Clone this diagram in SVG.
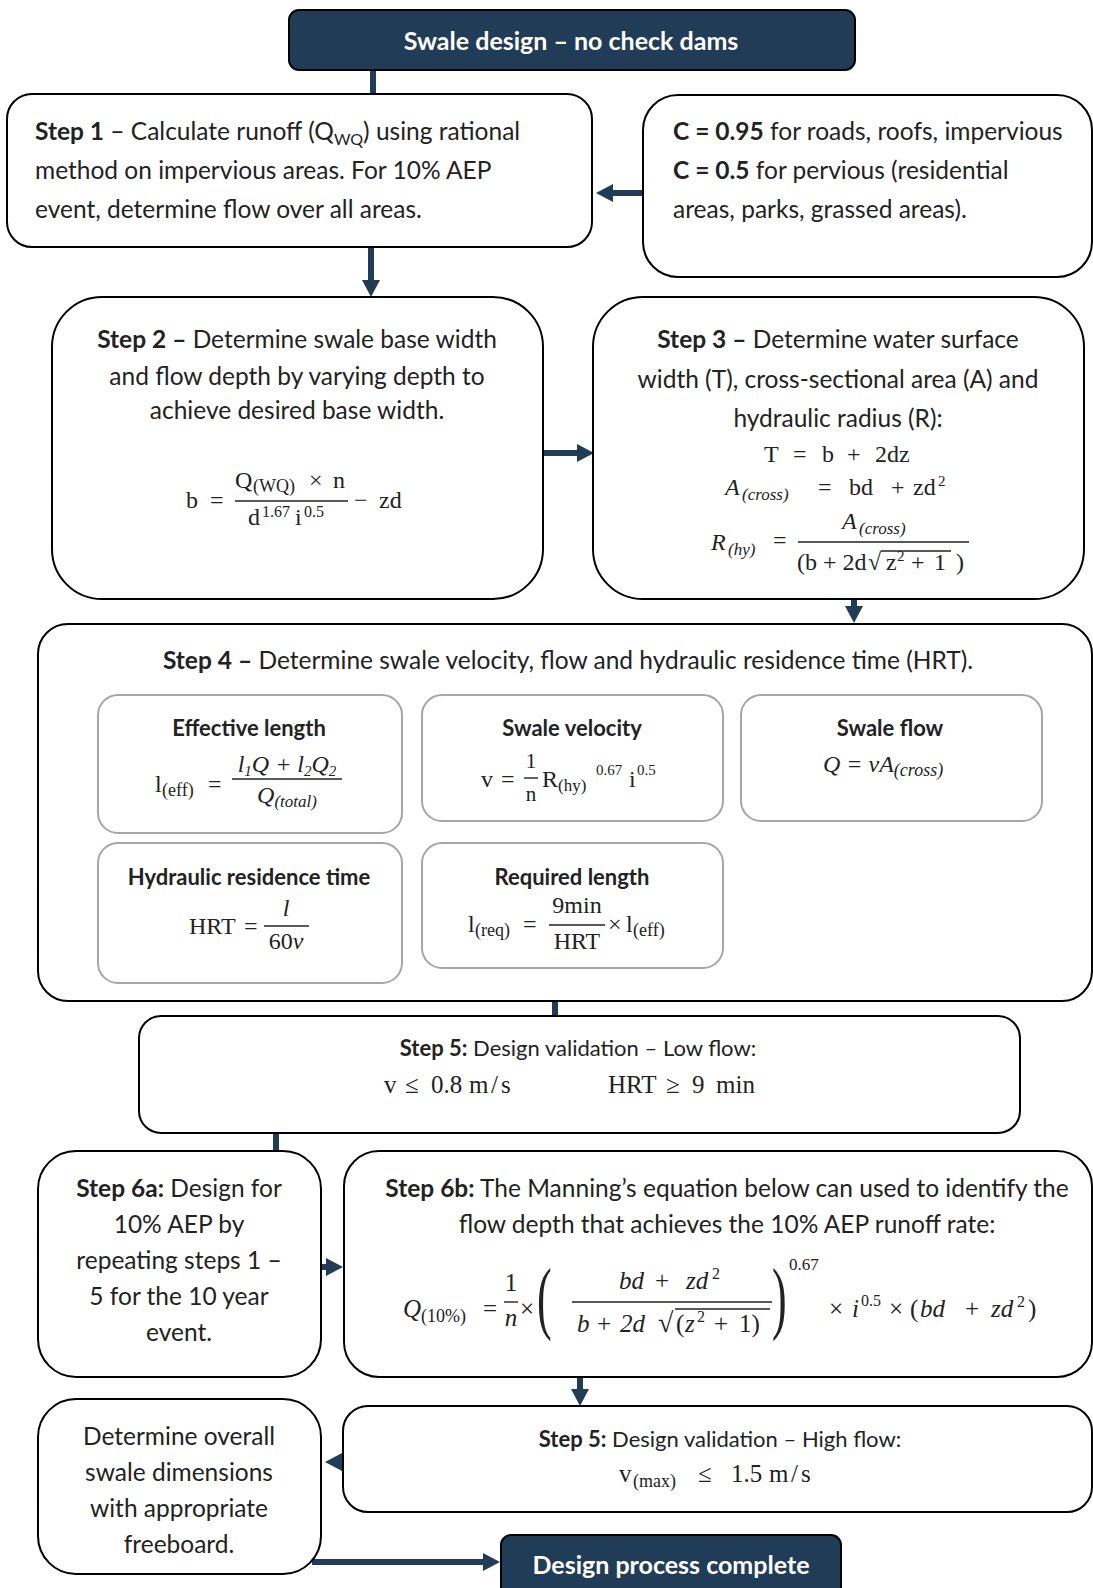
<svg xmlns="http://www.w3.org/2000/svg" width="1093" height="1588" viewBox="0 0 1093 1588">
<defs>
<style>
.box{fill:#fff;stroke:#000;stroke-width:2}
.dark{fill:#213c57;stroke:#000;stroke-width:2}
.inner{fill:#fff;stroke:#a6a6a6;stroke-width:2}
.t{font-family:Lato,'Liberation Sans',sans-serif;font-size:24.5px;fill:#222}
.s{font-size:22px}
.c{text-anchor:middle}
.b{font-weight:bold}
.w{fill:#fff;font-weight:bold}
.m{font-family:'Liberation Serif',serif;font-size:24px;fill:#222}
.i{font-style:italic}
.bar{stroke:#222;stroke-width:1.4}
.con{stroke:#213c57;stroke-width:6;fill:none}
</style>
<marker id="ah" viewBox="0 0 17 18" refX="0" refY="9" markerWidth="17" markerHeight="18" markerUnits="userSpaceOnUse" orient="auto"><path d="M0,0L17,9L0,18z" fill="#213c57"/></marker>
</defs>
<rect width="1093" height="1588" fill="#fff"/>

<g id="connectors">
<line class="con" x1="373" y1="71" x2="373" y2="94"/>
<line class="con" x1="371" y1="247" x2="371" y2="280" marker-end="url(#ah)"/>
<line class="con" x1="643" y1="193" x2="613" y2="193" marker-end="url(#ah)"/>
<line class="con" x1="544" y1="453" x2="577" y2="453" marker-end="url(#ah)"/>
<line class="con" x1="854" y1="599" x2="854" y2="606" marker-end="url(#ah)"/>
<line class="con" x1="555" y1="1001" x2="555" y2="1016"/>
<line class="con" x1="276" y1="1133" x2="276" y2="1151"/>
<line class="con" x1="321" y1="1267" x2="326" y2="1267" marker-end="url(#ah)"/>
<line class="con" x1="580" y1="1377" x2="580" y2="1389" marker-end="url(#ah)"/>
<line class="con" x1="344" y1="1462" x2="342" y2="1462" marker-end="url(#ah)"/>
<line class="con" x1="312" y1="1562" x2="483" y2="1562" marker-end="url(#ah)"/>
</g>

<g id="title">
<rect class="dark" x="289" y="10" width="566" height="60" rx="10"/>
<text class="t w c" x="571" y="50" style="font-size:25px">Swale design – no check dams</text>
</g>

<g id="step1">
<rect class="box" x="7" y="94" width="585" height="153" rx="25"/>
<text class="t" x="35" y="140"><tspan class="b">Step 1</tspan> – Calculate runoff (Q<tspan font-size="16" dy="5">WQ</tspan><tspan dy="-5">) using rational</tspan></text>
<text class="t" x="35" y="179">method on impervious areas. For 10% AEP</text>
<text class="t" x="35" y="218">event, determine flow over all areas.</text>
</g>

<g id="coeff">
<rect class="box" x="643" y="95" width="449" height="182" rx="35"/>
<text class="t" x="673" y="140"><tspan class="b">C = 0.95</tspan> for roads, roofs, impervious</text>
<text class="t" x="673" y="179"><tspan class="b">C = 0.5</tspan> for pervious (residential</text>
<text class="t" x="673" y="218">areas, parks, grassed areas).</text>
</g>

<g id="step2">
<rect class="box" x="52" y="297" width="491" height="302" rx="50"/>
<text class="t c" x="297" y="348"><tspan class="b">Step 2 –</tspan> Determine swale base width</text>
<text class="t c" x="297" y="385">and flow depth by varying depth to</text>
<text class="t c" x="297" y="419">achieve desired base width.</text>
<text class="m" y="508"><tspan x="186">b</tspan><tspan x="210">=</tspan><tspan x="354">−</tspan><tspan x="379">zd</tspan></text>
<line class="bar" x1="235" y1="501" x2="348" y2="501"/>
<text class="m" y="488"><tspan x="235">Q</tspan><tspan x="253" font-size="18" dy="4">(WQ)</tspan><tspan x="309" dy="-4">×</tspan><tspan x="333">n</tspan></text>
<text class="m" y="525"><tspan x="248">d</tspan><tspan x="262" font-size="16" dy="-8">1.67</tspan><tspan x="295" dy="8">i</tspan><tspan x="304" font-size="16" dy="-8">0.5</tspan></text>
</g>

<g id="step3">
<rect class="box" x="593" y="297" width="491" height="302" rx="50"/>
<text class="t c" x="838" y="348"><tspan class="b">Step 3 –</tspan> Determine water surface</text>
<text class="t c" x="838" y="388">width (T), cross-sectional area (A) and</text>
<text class="t c" x="838" y="427">hydraulic radius (R):</text>
<text class="m" y="462"><tspan x="764">T</tspan><tspan x="793">=</tspan><tspan x="822">b</tspan><tspan x="847">+</tspan><tspan x="875">2dz</tspan></text>
<text class="m" y="495"><tspan x="725" class="i">A</tspan><tspan x="742" class="i" font-size="17" dy="5">(cross)</tspan><tspan x="818" dy="-5">=</tspan><tspan x="849">bd</tspan><tspan x="891">+</tspan><tspan x="913">zd</tspan><tspan x="938" font-size="15" dy="-9">2</tspan></text>
<text class="m" y="550"><tspan x="711" class="i">R</tspan><tspan x="728" class="i" font-size="17" dy="5">(hy)</tspan><tspan x="773" dy="-7">=</tspan></text>
<line class="bar" x1="798" y1="542" x2="969" y2="542"/>
<text class="m" y="529"><tspan x="842" class="i">A</tspan><tspan x="859" class="i" font-size="17" dy="5">(cross)</tspan></text>
<text class="m" y="570"><tspan x="797">(b + 2d</tspan><tspan x="868">√</tspan><tspan x="886">z</tspan><tspan x="897" font-size="15" dy="-9">2</tspan><tspan x="911" dy="9">+</tspan><tspan x="934">1</tspan><tspan x="956">)</tspan></text>
<line class="bar" x1="881" y1="551" x2="951" y2="551"/>
</g>

<g id="step4">
<rect class="box" x="38" y="624" width="1054" height="377" rx="30"/>
<text class="t c" x="568" y="669"><tspan class="b">Step 4 –</tspan> Determine swale velocity, flow and hydraulic residence time (HRT).</text>
</g>

<g id="effective-length">
<rect class="inner" x="98" y="695" width="304" height="138" rx="20"/>
<text class="t s b c" x="249" y="736">Effective length</text>
<text class="m" y="792"><tspan x="155">l</tspan><tspan x="162" font-size="18" dy="4">(eff)</tspan><tspan x="208" dy="-4">=</tspan></text>
<line class="bar" x1="232" y1="779" x2="342" y2="779"/>
<text class="m i c" x="287" y="772">l<tspan font-size="15" dy="4">1</tspan><tspan dy="-4">Q + l</tspan><tspan font-size="15" dy="4">2</tspan><tspan dy="-4">Q</tspan><tspan font-size="15" dy="4">2</tspan></text>
<text class="m i c" x="287" y="803">Q<tspan font-size="17" dy="4">(total)</tspan></text>
</g>

<g id="swale-velocity">
<rect class="inner" x="422" y="695" width="301" height="126" rx="20"/>
<text class="t s b c" x="572" y="736">Swale velocity</text>
<text class="m" y="787"><tspan x="481">v</tspan><tspan x="501">=</tspan></text>
<text class="m c" x="531" y="768" style="font-size:21px">1</text>
<line class="bar" x1="524" y1="778" x2="538" y2="778"/>
<text class="m c" x="531" y="801" style="font-size:21px">n</text>
<text class="m" y="787"><tspan x="542">R</tspan><tspan x="558" font-size="17" dy="4">(hy)</tspan><tspan x="596" font-size="15" dy="-16">0.67</tspan><tspan x="629" dy="12">i</tspan><tspan x="637" font-size="15" dy="-12">0.5</tspan></text>
</g>

<g id="swale-flow">
<rect class="inner" x="741" y="695" width="301" height="126" rx="20"/>
<text class="t s b c" x="890" y="736">Swale flow</text>
<text class="m i" x="823" y="772">Q = vA<tspan font-size="18" dy="4">(cross)</tspan></text>
</g>

<g id="hrt">
<rect class="inner" x="98" y="843" width="304" height="140" rx="20"/>
<text class="t s b c" x="249" y="885">Hydraulic residence time</text>
<text class="m" y="934"><tspan x="189">HRT</tspan><tspan x="244">=</tspan></text>
<line class="bar" x1="264" y1="926" x2="309" y2="926"/>
<text class="m i c" x="286" y="916">l</text>
<text class="m c" x="286" y="949">60<tspan class="i">v</tspan></text>
</g>

<g id="required-length">
<rect class="inner" x="422" y="843" width="301" height="125" rx="20"/>
<text class="t s b c" x="572" y="885">Required length</text>
<text class="m" y="932"><tspan x="468">l</tspan><tspan x="475" font-size="18" dy="4">(req)</tspan><tspan x="523" dy="-4">=</tspan></text>
<line class="bar" x1="549" y1="925" x2="605" y2="925"/>
<text class="m c" x="577" y="913">9min</text>
<text class="m c" x="577" y="949">HRT</text>
<text class="m" y="932"><tspan x="608">×</tspan><tspan x="626">l</tspan><tspan x="633" font-size="18" dy="4">(eff)</tspan></text>
</g>

<g id="step5-low">
<rect class="box" x="139" y="1016" width="881" height="117" rx="22"/>
<text class="t s c" x="578" y="1056"><tspan class="b">Step 5:</tspan> Design validation – Low flow:</text>
<text class="m" y="1093" style="font-size:25px"><tspan x="384">v</tspan><tspan x="405">≤</tspan><tspan x="431">0.8</tspan><tspan x="469">m</tspan><tspan x="491">/</tspan><tspan x="501">s</tspan><tspan x="608">HRT</tspan><tspan x="666">≥</tspan><tspan x="692">9</tspan><tspan x="716">min</tspan></text>
</g>

<g id="step6a">
<rect class="box" x="38" y="1151" width="283" height="226" rx="38"/>
<text class="t c" x="179" y="1197"><tspan class="b">Step 6a:</tspan> Design for</text>
<text class="t c" x="179" y="1233">10% AEP by</text>
<text class="t c" x="179" y="1269">repeating steps 1 –</text>
<text class="t c" x="179" y="1305">5 for the 10 year</text>
<text class="t c" x="179" y="1341">event.</text>
</g>

<g id="step6b">
<rect class="box" x="344" y="1151" width="748" height="226" rx="35"/>
<text class="t c" x="727" y="1197"><tspan class="b">Step 6b:</tspan> The Manning’s equation below can used to identify the</text>
<text class="t c" x="727" y="1233">flow depth that achieves the 10% AEP runoff rate:</text>
<text class="m" y="1317" style="font-size:25px"><tspan x="403" class="i">Q</tspan><tspan x="421" font-size="18" dy="5">(10%)</tspan><tspan x="483" dy="-5">=</tspan><tspan x="520">×</tspan></text>
<text class="m c" x="511" y="1291" style="font-size:25px">1</text>
<line class="bar" x1="504" y1="1302" x2="518" y2="1302"/>
<text class="m i c" x="511" y="1326" style="font-size:25px">n</text>
<text class="m" style="font-size:80px" transform="translate(537 1324) scale(0.55 1)">(</text>
<line class="bar" x1="572" y1="1302" x2="772" y2="1302"/>
<text class="m i" y="1289" style="font-size:25px"><tspan x="619">bd</tspan><tspan x="655" font-style="normal">+</tspan><tspan x="686">zd</tspan><tspan x="712" font-size="16" font-style="normal" dy="-10">2</tspan></text>
<text class="m i" y="1332" style="font-size:25px"><tspan x="577">b</tspan><tspan x="597" font-style="normal">+</tspan><tspan x="620">2d</tspan><tspan x="658" font-style="normal" font-size="28">√</tspan><tspan x="676" font-style="normal">(</tspan><tspan x="685">z</tspan><tspan x="697" font-size="16" font-style="normal" dy="-10">2</tspan><tspan x="714" font-style="normal" dy="10">+</tspan><tspan x="739" font-style="normal">1)</tspan></text>
<line class="bar" x1="675" y1="1309" x2="770" y2="1309"/>
<text class="m" style="font-size:80px" transform="translate(772 1324) scale(0.55 1)">)</text>
<text class="m" x="789" y="1270" style="font-size:17px">0.67</text>
<text class="m" y="1317" style="font-size:25px"><tspan x="829">×</tspan><tspan x="852" class="i">i</tspan><tspan x="861" font-size="16" dy="-11">0.5</tspan><tspan x="889" dy="11">×</tspan><tspan x="910">(</tspan><tspan x="920" class="i">bd</tspan><tspan x="965">+</tspan><tspan x="991" class="i">zd</tspan><tspan x="1017" font-size="16" dy="-10">2</tspan><tspan x="1028" dy="10">)</tspan></text>
</g>

<g id="step5-high">
<rect class="box" x="343" y="1406" width="749" height="106" rx="25"/>
<text class="t s c" x="720" y="1447"><tspan class="b">Step 5:</tspan> Design validation – High flow:</text>
<text class="m" y="1482" style="font-size:25px"><tspan x="619">v</tspan><tspan x="633" font-size="18" dy="5">(max)</tspan><tspan x="698" dy="-5">≤</tspan><tspan x="731">1.5</tspan><tspan x="769">m</tspan><tspan x="791">/</tspan><tspan x="801">s</tspan></text>
</g>

<g id="determine">
<rect class="box" x="38" y="1399" width="283" height="175" rx="38"/>
<text class="t c" x="179" y="1445">Determine overall</text>
<text class="t c" x="179" y="1481">swale dimensions</text>
<text class="t c" x="179" y="1517">with appropriate</text>
<text class="t c" x="179" y="1553">freeboard.</text>
</g>

<g id="complete">
<rect class="dark" x="501" y="1535" width="340" height="70" rx="10"/>
<text class="t w c" x="671" y="1574" style="font-size:25px">Design process complete</text>
</g>
</svg>
